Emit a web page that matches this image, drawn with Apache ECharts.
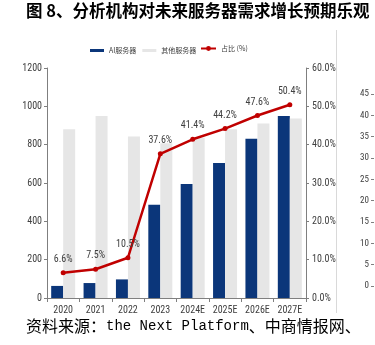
<!DOCTYPE html>
<html>
<head>
<meta charset="utf-8">
<script src="https://cdn.jsdelivr.net/npm/echarts@6/dist/echarts.min.js"></script>
<style>
html,body{margin:0;padding:0;background:#fff;}
#c{width:375px;height:345px;}
</style>
</head>
<body>
<div id="c"></div>
<script>
var categories = ['2020','2021','2022','2023','2024E','2025E','2026E','2027E'];
var aiServers = [63, 78, 97, 486, 595, 705, 831, 950];
var otherServers = [880, 950, 843, 808, 836, 880, 911, 937];
var aiShare = [6.6, 7.5, 10.5, 37.6, 41.4, 44.2, 47.6, 50.4];
var leftTicks = [0, 200, 400, 600, 800, 1000, 1200];
var rightTicks = [0, 10, 20, 30, 40, 50, 60];
var sideTicks = [0, 5, 10, 15, 20, 25, 30, 35, 40, 45];

var titleText = '图 8、分析机构对未来服务器需求增长预期乐观';
var seriesNames = ['AI服务器', '其他服务器', '占比 (%)'];

var NARROW = '"Liberation Sans Narrow","Arial Narrow","Roboto Condensed",sans-serif';
var AXIS = '#7f7f7f';
var TXT = '#404040';
var BLUE = '#0b367a';
var GRAY = '#e6e6e6';
var RED = '#c00000';

var chart = echarts.init(document.getElementById('c'), null, {renderer:'canvas'});
chart.setOption({
  backgroundColor:'#fff',
  animation:false,
  title:{
    text:titleText,
    left:26, top:2, padding:0,
    textStyle:{fontFamily:'"Noto Sans CJK SC",sans-serif',fontSize:16.5,fontWeight:'bold',color:'#000'}
  },
  legend:[{
    data:[seriesNames[0], seriesNames[1]],
    left:85, top:42,
    itemWidth:14, itemHeight:3, itemGap:6,
    icon:'rect',
    textStyle:{fontSize:7, color:TXT, fontFamily:'"Noto Sans CJK SC",sans-serif'}
  },{
    data:[seriesNames[2]],
    left:195, top:40,
    itemWidth:15, itemHeight:6,
    textStyle:{fontSize:7, color:TXT, fontFamily:'"Noto Sans CJK SC",sans-serif'}
  }],
  grid:[
    {left:47, right:69, top:68, bottom:47},
    {left:374, right:0, top:94, bottom:59}
  ],
  xAxis:[{
    type:'category', data:categories, gridIndex:0,
    axisLine:{lineStyle:{color:AXIS,width:1}},
    axisTick:{show:true, length:4, lineStyle:{color:AXIS}},
    axisLabel:{color:TXT, fontSize:10, fontFamily:NARROW, margin:7}
  },{
    type:'value', gridIndex:1, show:false, min:0, max:1
  }],
  yAxis:[{
    type:'value', gridIndex:0, min:0, max:1200, interval:200,
    axisLine:{show:true, lineStyle:{color:AXIS}},
    axisTick:{show:true, length:3, lineStyle:{color:AXIS}},
    splitLine:{show:false},
    axisLabel:{color:TXT, fontSize:10, fontFamily:NARROW, margin:5,
      formatter:function(v){return leftTicks.indexOf(v)>=0 ? String(v) : '';}}
  },{
    type:'value', gridIndex:0, min:0, max:60, interval:10, position:'right',
    axisLine:{show:true, lineStyle:{color:AXIS}},
    axisTick:{show:true, length:3, lineStyle:{color:AXIS}},
    splitLine:{show:false},
    axisLabel:{color:TXT, fontSize:10, fontFamily:NARROW, margin:6,
      formatter:function(v){return rightTicks.indexOf(v)>=0 ? v.toFixed(1)+'%' : '';}}
  },{
    type:'value', gridIndex:1, min:0, max:45, interval:5, position:'left',
    axisLine:{show:false},
    axisTick:{show:true, length:3, lineStyle:{color:AXIS}},
    splitLine:{show:false},
    axisLabel:{color:TXT, fontSize:9, fontFamily:NARROW, margin:5,
      formatter:function(v){return sideTicks.indexOf(v)>=0 ? String(v) : '';}}
  }],
  graphic:[{
    type:'line', silent:true,
    shape:{x1:336.5, y1:30, x2:336.5, y2:313},
    style:{stroke:'#d9d9d9', lineWidth:1}
  },{
    type:'text', left:26, top:318, silent:true,
    style:{
      text:'{c|资料来源：}{m|the Next Platform}{c|、中商情报网、}',
      rich:{
        c:{fontFamily:'"Noto Sans CJK SC",sans-serif', fontSize:16, fill:'#000'},
        m:{fontFamily:'"Liberation Mono","DejaVu Sans Mono",monospace', fontSize:14, fill:'#000'}
      }
    }
  }],
  series:[{
    name:seriesNames[0], type:'bar', xAxisIndex:0, yAxisIndex:0,
    data:aiServers, barWidth:12, barGap:'0%',
    itemStyle:{color:BLUE}
  },{
    name:seriesNames[1], type:'bar', xAxisIndex:0, yAxisIndex:0,
    data:otherServers, barWidth:12, barGap:'0%',
    itemStyle:{color:GRAY}
  },{
    name:seriesNames[2], type:'line', xAxisIndex:0, yAxisIndex:1,
    data:aiShare, symbol:'circle', symbolSize:5,
    lineStyle:{color:RED, width:2.5},
    itemStyle:{color:RED},
    label:{show:true, position:'top', distance:6, color:TXT, fontSize:10, fontFamily:NARROW,
      formatter:function(p){return p.value.toFixed(1)+'%';}},
    z:5
  }]
});
</script>
</body>
</html>
